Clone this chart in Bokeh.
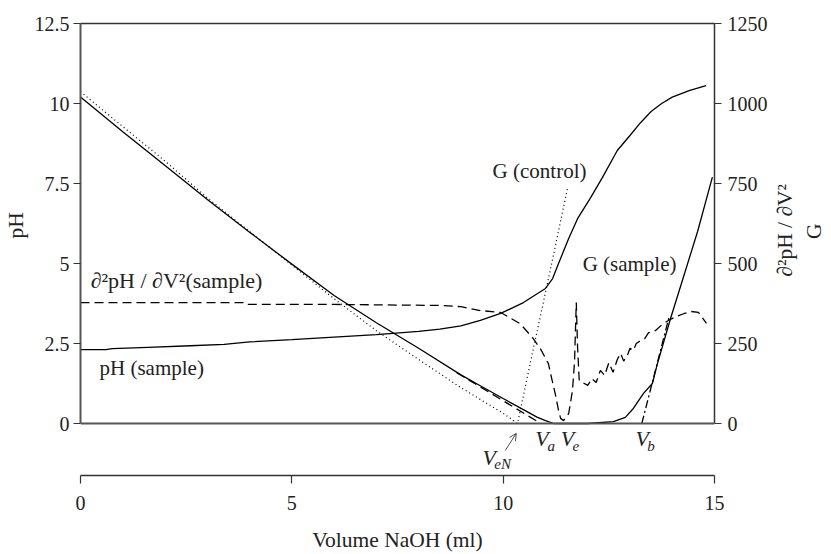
import math
from bokeh.plotting import figure
from bokeh.models import Range1d, LinearAxis, FixedTicker, Label, Arrow, OpenHead, Span
from bokeh.embed import file_html
from bokeh.resources import INLINE

# ---------------- data ----------------
ph_vol = [0, 0.6, 0.75, 1.6, 2.6, 3.4, 4.0, 5.0, 5.9, 7.0, 8.0, 8.5, 9.0, 9.46, 9.94,
          10.48, 11.0, 11.17, 11.31, 11.55, 11.76, 12.07, 12.35, 12.7, 13.0, 13.25,
          13.5, 13.75, 14.0, 14.4, 14.8]
ph_sample = [2.31, 2.31, 2.34, 2.38, 2.43, 2.47, 2.55, 2.62, 2.69, 2.78, 2.88, 2.95,
             3.05, 3.22, 3.44, 3.78, 4.22, 4.53, 5.0, 5.78, 6.4, 7.06, 7.69, 8.53, 9.0,
             9.4, 9.75, 10.0, 10.2, 10.4, 10.56]

gs_vol = [0, 1, 2, 3, 4, 5, 6, 7, 8, 9, 9.5, 10, 10.5, 10.8, 11.0, 11.2, 12.0, 12.61,
          12.89, 13.08, 13.32, 13.53, 13.65, 13.96, 14.24, 14.6, 14.95]
g_sample = [1020, 912, 806, 700, 598, 498, 400, 315, 235, 152, 115, 78, 42, 20, 9, 0, 0,
            6, 19, 47, 94, 125, 187, 328, 447, 600, 770]

gc_vol = [0, 1, 2, 3, 4, 5, 6, 7, 8, 9, 9.5, 10, 10.34, 10.7, 11.1, 11.52]
g_control = [1037, 928, 820, 705, 600, 495, 390, 290, 200, 112, 72, 32, 0, 225, 470, 734]

d2_vol = [0, 3.85, 3.9, 6.0, 8.5, 9.0, 9.46, 9.94, 10.4, 10.69, 10.88, 11.07, 11.16,
          11.24, 11.31, 11.36, 11.43, 11.55, 11.64, 11.69, 11.71, 11.73, 11.76, 11.8,
          12.0, 12.1, 12.2, 12.3, 12.4, 12.5, 12.6, 12.7, 12.78, 12.85, 12.94, 13.0,
          13.08, 13.15, 13.25, 13.35, 13.44, 13.6, 13.75, 13.91, 14.1, 14.27, 14.45,
          14.62, 14.81]
d2_sample = [378, 378, 372, 372, 369, 365, 353, 347, 312, 269, 234, 187, 134, 88, 41, 16,
             9, 31, 103, 197, 290, 378, 240, 134, 119, 140, 128, 166, 150, 190, 160, 200,
             219, 195, 213, 235, 228, 250, 259, 265, 284, 290, 308, 322, 335, 343, 350,
             347, 313]

fit_acid_vol = [8.9, 10.89]
fit_acid = [159, 0]
fit_base_vol = [13.28, 13.92]
fit_base = [0, 330]

x_ticks = [0, 5, 10, 15]
ph_ticks = [0, 2.5, 5, 7.5, 10, 12.5]
ph_tick_labels = ["0", "2.5", "5", "7.5", "10", "12.5"]
g_ticks = [0, 250, 500, 750, 1000, 1250]

# ---------------- figure ----------------
FONT = "Liberation Serif"
AX = "#333333"
PH_MIN, PH_MAX = 0, 12.5
G_MIN, G_MAX = 0, 1250
GAP = 1.625          # empty band (in pH units) between plot box and volume axis
G_GAP = GAP * 100
NB = "\u00a0"        # keeps the rotated titles centred on the plot box, not the band

p = figure(frame_width=634, frame_height=452, output_backend="svg", toolbar_location=None,
           x_range=Range1d(0, 15), y_range=Range1d(PH_MIN - GAP, PH_MAX),
           x_axis_location=None, y_axis_location=None,
           min_border=0, min_border_top=23, min_border_left=80)
p.extra_y_ranges = {"right": Range1d(G_MIN - G_GAP, G_MAX)}
p.xgrid.visible = False
p.ygrid.visible = False
p.outline_line_color = None
p.background_fill_color = "white"
p.border_fill_color = "white"


def style(ax, label_size="20px"):
    ax.axis_line_color = AX
    ax.axis_line_width = 1.5
    ax.major_tick_line_color = AX
    ax.major_tick_line_width = 1.2
    ax.major_tick_in = 0
    ax.major_tick_out = 7
    ax.minor_tick_line_color = None
    ax.major_label_text_font = FONT
    ax.major_label_text_font_size = label_size
    ax.major_label_text_color = "#222222"
    ax.axis_label_text_font = FONT
    ax.axis_label_text_font_style = "normal"
    ax.axis_label_text_font_size = "21.5px"
    ax.axis_label_text_color = "#222222"


left = LinearAxis(ticker=FixedTicker(ticks=ph_ticks), axis_label=NB * 9 + "pH",
                  bounds=(PH_MIN, PH_MAX))
style(left)
left.axis_line_width = 2
left.axis_line_color = "#555555"
left.major_label_overrides = {t: s for t, s in zip(ph_ticks, ph_tick_labels)}
left.major_label_standoff = 4
left.axis_label_standoff = 4
p.add_layout(left, "left")

right = LinearAxis(y_range_name="right", ticker=FixedTicker(ticks=g_ticks),
                   axis_label=NB * 37 + "∂²pH / ∂V²\n" + NB * 44 + "G",
                   bounds=(G_MIN, G_MAX))
style(right)
right.major_label_standoff = 6
right.axis_label_standoff = 29
right.axis_label_orientation = math.pi / 2
right.axis_label_align = "start"
p.add_layout(right, "right")

top = LinearAxis(ticker=FixedTicker(ticks=[]))
top.axis_line_color = AX
top.axis_line_width = 1.5
top.major_tick_line_color = None
top.minor_tick_line_color = None
top.major_tick_out = 0
top.major_label_standoff = 0
p.add_layout(top, "above")

bottom = LinearAxis(ticker=FixedTicker(ticks=x_ticks), axis_label="Volume NaOH (ml)")
style(bottom)
bottom.major_tick_out = 8
bottom.major_label_standoff = 12
bottom.axis_label_standoff = 15
p.add_layout(bottom, "below")

# baseline of the plot box (pH = 0)
p.add_layout(Span(location=0, dimension="width", line_color="#555555", line_width=2))

# ---------------- curves ----------------
LW = 1.3
p.line(ph_vol, ph_sample, line_color="black", line_width=LW)
p.line(gs_vol, g_sample, y_range_name="right", line_color="black", line_width=LW)
p.line(gc_vol, g_control, y_range_name="right", line_color="black", line_width=1.2,
       line_dash="1 3")
p.line(d2_vol, d2_sample, y_range_name="right", line_color="black", line_width=LW,
       line_dash="9 5")
p.line(fit_acid_vol, fit_acid, y_range_name="right", line_color="black", line_width=LW,
       line_dash="9 5")
p.line(fit_base_vol, fit_base, y_range_name="right", line_color="black", line_width=LW,
       line_dash="8 3 2 3")

# ---------------- annotations ----------------
def txt(x, y, s, size="21px", style_="normal", align="left"):
    p.add_layout(Label(x=x, y=y, text=s, text_font=FONT, text_font_size=size,
                       text_font_style=style_, text_baseline="middle", text_align=align,
                       text_color="#222222"))


txt(0.24, 4.47, "∂²pH / ∂V²(sample)", size="22px")
txt(0.45, 1.72, "pH (sample)")
txt(9.75, 7.9, "G (control)")
txt(11.88, 5.0, "G (sample)")

# V labels below the plot box
for vx, sx, sub, vy, sy in [(10.76, 11.05, "a", -0.47, -0.69),
                            (11.36, 11.64, "e", -0.47, -0.69),
                            (13.13, 13.41, "b", -0.47, -0.69),
                            (9.51, 9.79, "eN", -1.06, -1.26)]:
    txt(vx, vy, "V", size="22px", style_="italic")
    txt(sx, sy, sub, size="15px", style_="italic")

p.add_layout(Arrow(end=OpenHead(size=7, line_width=0.8, line_color="#222222"),
                   x_start=10.05, y_start=-0.84, x_end=10.31, y_end=-0.31,
                   line_width=0.8, line_color="#222222"))

open("out.html", "w").write(file_html(p, INLINE))
